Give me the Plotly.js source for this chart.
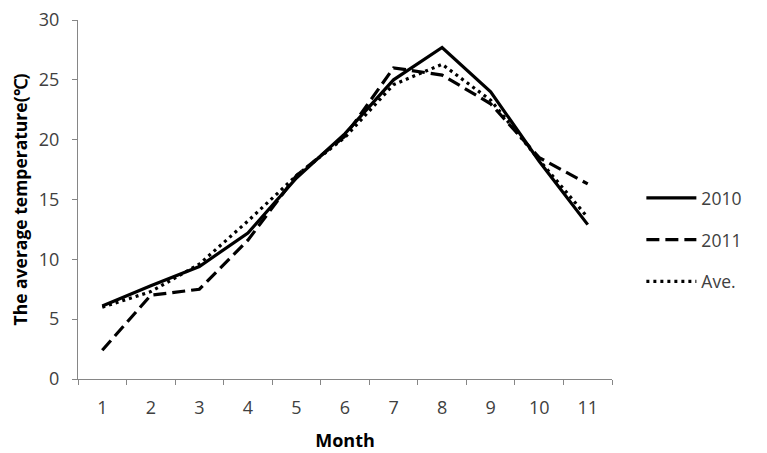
<!DOCTYPE html>
<html>
<head>
<meta charset="utf-8">
<script src="https://cdn.plot.ly/plotly-3.0.1.min.js"></script>
<style>html,body{margin:0;padding:0;background:#fff;}#chart{width:767px;height:453px;}</style>
</head>
<body>
<div id="chart"></div>
<script>
var months = ["1","2","3","4","5","6","7","8","9","10","11"];
var t2010 = [6.1, 7.8, 9.4, 12.2, 16.8, 20.5, 25.0, 27.7, 24.0, 18.2, 12.9];
var t2011 = [2.4, 7.0, 7.5, 11.6, 17.0, 20.3, 26.0, 25.4, 23.0, 18.5, 16.3];
var tAve  = [6.0, 7.3, 9.6, 13.2, 17.0, 20.2, 24.6, 26.3, 23.3, 18.3, 13.5];
var seriesNames = ["2010", "2011", "Ave."];

var font = "'Open Sans', sans-serif";
var traces = [
  {x: months, y: t2010, name: seriesNames[0], mode: "lines", legendgroup: "a",
   line: {color: "#000", width: 3.2, dash: "solid"}},
  {x: months, y: t2011, name: seriesNames[1], mode: "lines", legendgroup: "b",
   line: {color: "#000", width: 3.2, dash: "13px,6px"}},
  {x: months, y: tAve, name: seriesNames[2], mode: "lines", legendgroup: "c",
   line: {color: "#000", width: 3.2, dash: "3px,4px"}}
];
var layout = {
  width: 767, height: 453,
  margin: {l: 78, r: 155, t: 20, b: 74},
  paper_bgcolor: "#fff", plot_bgcolor: "#fff",
  showlegend: true,
  legend: {x: 1.055, xanchor: "left", y: 0.387, yanchor: "middle",
           font: {family: font, size: 17.5, color: "#404040"},
           itemwidth: 50,
           tracegroupgap: 16, bgcolor: "rgba(0,0,0,0)"},
  xaxis: {type: "category", tickson: "boundaries", range: [-0.5, 10.5],
          showline: true, linecolor: "#868686", linewidth: 1,
          ticks: "outside", ticklen: 5, tickcolor: "#868686",
          showgrid: false, zeroline: false,
          ticklabelstandoff: 12,
          tickfont: {family: font, size: 18, color: "#404040"},
          title: {text: "Month", font: {family: font, size: 18, color: "#000", weight: "bold"}, standoff: 16}},
  yaxis: {range: [0, 30], dtick: 5, tick0: 0,
          showline: true, linecolor: "#868686", linewidth: 1,
          ticks: "outside", ticklen: 5, tickcolor: "#868686",
          showgrid: false, zeroline: false,
          ticklabelstandoff: 9,
          tickfont: {family: font, size: 18, color: "#404040"},
          title: {text: "The average temperature(℃)", font: {family: font, size: 17.5, color: "#000", weight: "bold"}, standoff: 6}}
};
Plotly.newPlot("chart", traces, layout, {displayModeBar: false, staticPlot: true});
</script>
</body>
</html>
